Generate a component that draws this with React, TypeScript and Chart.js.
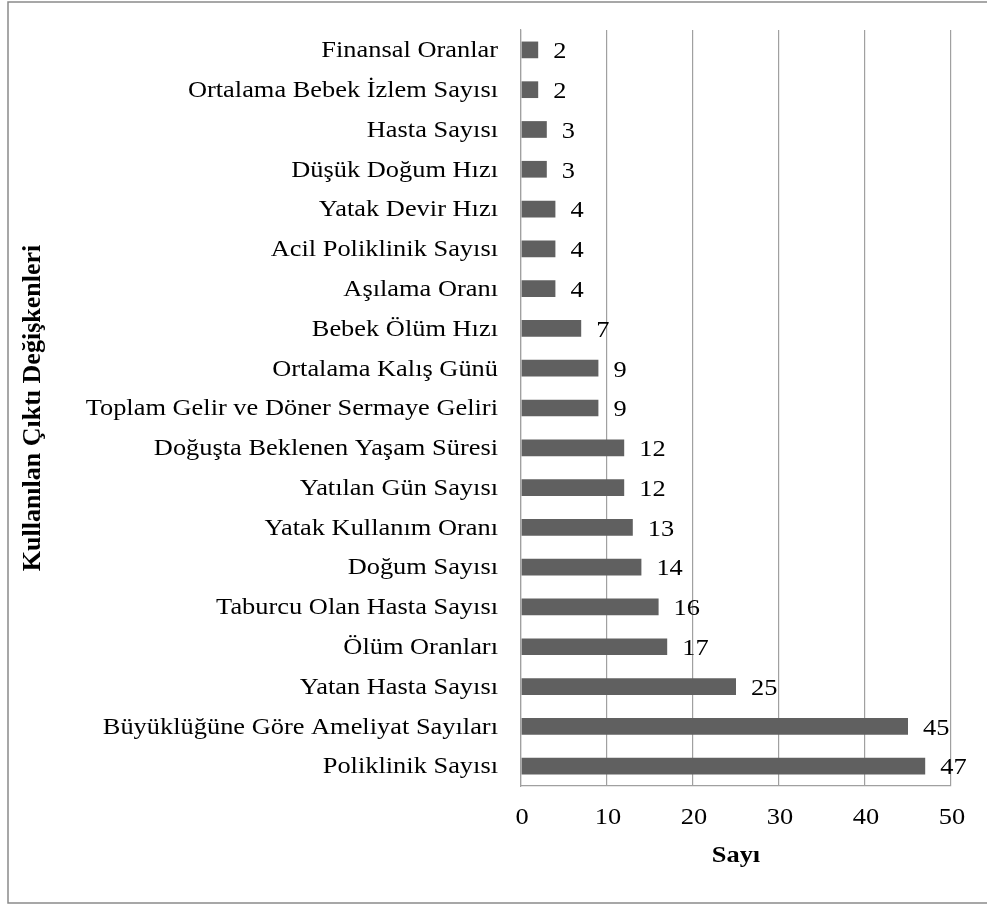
import { useEffect, useRef } from "react";
import { Chart, registerables } from "chart.js";

Chart.register(...registerables);

// Output variables, listed top to bottom
const categories = [
  "Finansal Oranlar",
  "Ortalama Bebek İzlem Sayısı",
  "Hasta Sayısı",
  "Düşük Doğum Hızı",
  "Yatak Devir Hızı",
  "Acil Poliklinik Sayısı",
  "Aşılama Oranı",
  "Bebek Ölüm Hızı",
  "Ortalama Kalış Günü",
  "Toplam Gelir ve Döner Sermaye Geliri",
  "Doğuşta Beklenen Yaşam Süresi",
  "Yatılan Gün Sayısı",
  "Yatak Kullanım Oranı",
  "Doğum Sayısı",
  "Taburcu Olan Hasta Sayısı",
  "Ölüm Oranları",
  "Yatan Hasta Sayısı",
  "Büyüklüğüne Göre Ameliyat Sayıları",
  "Poliklinik Sayısı",
];
const counts = [2, 2, 3, 3, 4, 4, 4, 7, 9, 9, 12, 12, 13, 14, 16, 17, 25, 45, 47];
const xTicks = [0, 10, 20, 30, 40, 50];
const xTitle = "Sayı";
const yTitle = "Kullanılan Çıktı Değişkenleri";

const SERIF = '"Liberation Serif", "Times New Roman", serif';
const STRETCH = 1.1;
const INK = "#000000";
const BAR = "#606060";
const RULE = "#a0a0a0";

function wideText(
  ctx: CanvasRenderingContext2D,
  text: string,
  x: number,
  y: number,
  align: CanvasTextAlign,
  font: string
) {
  ctx.save();
  ctx.translate(x, y);
  ctx.scale(STRETCH, 1);
  ctx.font = font;
  ctx.fillStyle = INK;
  ctx.textAlign = align;
  ctx.textBaseline = "middle";
  ctx.fillText(text, 0, 0);
  ctx.restore();
}

const framePlugin = {
  id: "frame",
  beforeDraw(chart: any) {
    const ctx: CanvasRenderingContext2D = chart.ctx;
    const { width, height } = chart;
    ctx.save();
    ctx.fillStyle = "#ffffff";
    ctx.fillRect(0, 0, width, height);
    ctx.strokeStyle = "#8a8a8a";
    ctx.lineWidth = 1.5;
    ctx.beginPath();
    ctx.moveTo(width + 2, 2);
    ctx.lineTo(8, 2);
    ctx.lineTo(8, height - 2);
    ctx.lineTo(width + 2, height - 2);
    ctx.stroke();
    ctx.restore();
  },
};

const textPlugin = {
  id: "texts",
  afterDraw(chart: any) {
    const ctx: CanvasRenderingContext2D = chart.ctx;
    const xs = chart.scales.x;
    const ys = chart.scales.y;
    const area = chart.chartArea;
    const body = `24px ${SERIF}`;

    // category labels
    categories.forEach((label, i) => {
      wideText(ctx, label, area.left - 23, ys.getPixelForTick(i) + 1, "right", body);
    });

    // value labels beside each bar
    const meta = chart.getDatasetMeta(0);
    meta.data.forEach((bar: any, i: number) => {
      wideText(ctx, String(counts[i]), bar.x + 15, bar.y + 2, "left", body);
    });

    // x tick labels
    xTicks.forEach((v) => {
      wideText(ctx, String(v), xs.getPixelForValue(v) + 1, area.bottom + 32, "center", body);
    });

    // axis titles
    wideText(ctx, xTitle, (area.left + area.right) / 2, area.bottom + 70, "center", `bold 24px ${SERIF}`);

    ctx.save();
    ctx.translate(33, (area.top + area.bottom) / 2);
    ctx.rotate(-Math.PI / 2);
    ctx.font = `bold 26px ${SERIF}`;
    ctx.fillStyle = INK;
    ctx.textAlign = "center";
    ctx.textBaseline = "middle";
    ctx.fillText(yTitle, 0, 0);
    ctx.restore();
  },
};

export default function App() {
  const ref = useRef<HTMLCanvasElement | null>(null);

  useEffect(() => {
    if (!ref.current) return;
    const chart = new Chart(ref.current, {
      type: "bar",
      data: {
        labels: categories,
        datasets: [
          {
            data: counts,
            backgroundColor: BAR,
            borderWidth: 0,
            categoryPercentage: 1,
            barPercentage: 0.42,
          },
        ],
      },
      options: {
        indexAxis: "y",
        animation: false,
        responsive: false,
        devicePixelRatio: 1,
        layout: { padding: { top: 30, right: 36, left: 0, bottom: 0 } },
        plugins: {
          legend: { display: false },
          tooltip: { enabled: false },
          title: { display: false },
        },
        scales: {
          x: {
            min: 0,
            max: 50,
            ticks: { stepSize: 10, display: false },
            grid: { color: RULE, lineWidth: 1.2, drawTicks: false },
            border: { display: true, color: RULE, width: 1.2 },
            afterFit: (s: any) => {
              s.height = 119;
            },
          },
          y: {
            ticks: { display: false },
            grid: { display: false, drawTicks: false },
            border: { display: true, color: RULE, width: 1.2 },
            afterFit: (s: any) => {
              s.width = 521;
            },
          },
        },
      },
      plugins: [framePlugin, textPlugin],
    });
    return () => chart.destroy();
  }, []);

  return (
    <div style={{ position: "absolute", left: 0, top: 0, width: 987, height: 905 }}>
      <canvas ref={ref} width={987} height={905} style={{ display: "block" }} />
    </div>
  );
}
